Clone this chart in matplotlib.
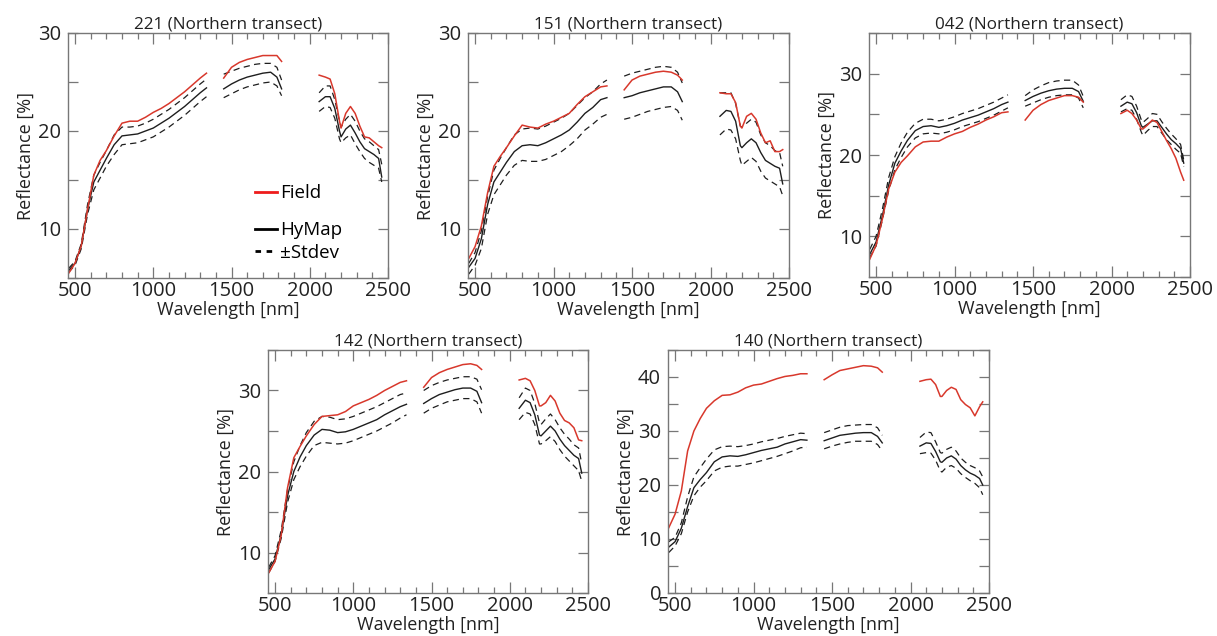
import numpy as np
import matplotlib
matplotlib.use("Agg")
import matplotlib.pyplot as plt
from matplotlib.lines import Line2D
from matplotlib.ticker import MultipleLocator

plt.rcParams['font.family'] = ['Open Sans', 'DejaVu Sans']

# Wavelength grid (nm), three segments separated by water absorption gaps
wl_vnir = [460, 500, 540, 580, 620, 660, 700, 750, 800, 850, 900, 950, 1000,
           1050, 1100, 1150, 1200, 1250, 1300, 1340]
wl_swir1 = [1450, 1500, 1550, 1600, 1650, 1700, 1750, 1790, 1820]
wl_swir2 = [2060, 2100, 2130, 2160, 2190, 2200, 2230, 2260, 2290, 2320, 2350,
            2380, 2410, 2440, 2460]

titles = ["221 (Northern transect)", "151 (Northern transect)", "042 (Northern transect)",
          "142 (Northern transect)", "140 (Northern transect)"]

# ---- 221 ----
field_221 = [5.5, 6.5, 8.3, 12.0, 15.5, 17.0, 18.0, 19.5, 20.8, 21.0, 21.0, 21.4, 21.9, 22.3, 22.8, 23.4, 24.0, 24.7, 25.4, 25.9,
             25.4, 26.5, 27.0, 27.3, 27.5, 27.7, 27.7, 27.7, 27.1,
             25.7, 25.5, 25.3, 23.8, 21.0, 20.3, 21.8, 22.5, 21.8, 20.5, 19.4, 19.3, 18.9, 18.5, 18.3]
hymap_221 = [5.8, 6.5, 8.3, 12.0, 14.8, 16.0, 17.2, 18.6, 19.5, 19.6, 19.7, 20.0, 20.3, 20.8, 21.3, 21.9, 22.5, 23.2, 23.9, 24.4,
             24.3, 24.8, 25.2, 25.5, 25.7, 25.9, 26.0, 25.5, 24.3,
             23.0, 23.5, 23.5, 22.3, 20.0, 19.4, 20.2, 20.6, 19.8, 18.9, 18.2, 17.9, 17.6, 17.2, 15.3]
hi_221 = [6.0, 6.7, 8.5, 12.5, 15.5, 16.8, 18.0, 19.6, 20.4, 20.4, 20.5, 20.8, 21.2, 21.7, 22.2, 22.8, 23.4, 24.1, 24.8, 25.3,
          25.8, 26.1, 26.4, 26.6, 26.8, 26.9, 26.9, 26.5, 25.2,
          23.9, 24.6, 24.6, 23.2, 21.0, 20.4, 21.2, 21.7, 21.0, 20.0, 19.2, 18.9, 18.5, 18.1, 16.6]
lo_221 = [5.6, 6.3, 8.0, 11.5, 14.0, 15.2, 16.4, 17.6, 18.6, 18.7, 18.8, 19.1, 19.4, 19.9, 20.4, 21.0, 21.6, 22.3, 23.0, 23.5,
          23.4, 23.8, 24.2, 24.5, 24.7, 24.9, 25.0, 24.6, 23.6,
          22.0, 22.5, 22.4, 21.3, 19.2, 18.8, 19.3, 19.6, 18.7, 17.9, 17.2, 16.8, 16.5, 16.2, 14.8]

# ---- 151 ----
field_151 = [7.0, 8.2, 10.3, 13.7, 16.4, 17.4, 18.3, 19.5, 20.6, 20.4, 20.3, 20.7, 21.0, 21.4, 21.8, 22.7, 23.5, 24.0, 24.5, 24.6,
             24.2, 25.2, 25.6, 25.8, 26.0, 26.1, 26.0, 25.7, 25.2,
             23.9, 23.8, 23.8, 22.9, 20.5, 20.3, 21.5, 21.8, 21.2, 19.8, 18.8, 19.0, 17.9, 17.9, 18.1]
hymap_151 = [6.1, 7.0, 9.0, 12.5, 14.8, 15.8, 16.8, 17.9, 18.5, 18.6, 18.5, 18.8, 19.2, 19.6, 20.1, 20.9, 21.8, 22.4, 23.2, 23.4,
             23.4, 23.6, 23.9, 24.1, 24.3, 24.5, 24.5, 24.0, 23.0,
             21.5, 22.1, 22.0, 21.0, 18.5, 18.3, 18.8, 19.2, 18.8, 17.8, 17.0, 16.7, 16.4, 16.2, 14.6]
hi_151 = [6.5, 7.6, 9.8, 13.3, 16.0, 17.2, 18.3, 19.6, 20.2, 20.3, 20.2, 20.5, 20.9, 21.3, 21.8, 22.6, 23.4, 24.0, 24.8, 25.2,
          25.6, 25.9, 26.1, 26.3, 26.5, 26.6, 26.5, 26.0, 24.9,
          23.9, 23.9, 23.9, 22.8, 20.5, 20.4, 20.8, 21.2, 20.9, 19.6, 18.8, 18.5, 18.0, 17.8, 16.4]
lo_151 = [5.4, 6.3, 8.0, 11.5, 13.5, 14.5, 15.5, 16.5, 17.0, 16.9, 16.9, 17.1, 17.5, 17.9, 18.5, 19.2, 20.1, 20.7, 21.4, 21.7,
          21.2, 21.4, 21.7, 22.0, 22.2, 22.4, 22.5, 22.1, 21.1,
          19.6, 20.2, 20.1, 19.2, 17.0, 16.5, 16.9, 17.3, 16.9, 15.9, 15.2, 14.9, 14.6, 14.3, 13.4]

# ---- 042 ----
field_042 = [7.2, 8.9, 12.1, 15.8, 17.9, 19.1, 19.9, 21.0, 21.6, 21.7, 21.7, 22.2, 22.6, 22.9, 23.4, 23.8, 24.3, 24.7, 25.2, 25.3,
             24.3, 25.5, 26.2, 26.7, 27.0, 27.3, 27.3, 27.1, 26.5,
             25.1, 25.5, 25.1, 24.3, 23.2, 23.2, 23.7, 24.3, 24.0, 22.9, 21.8, 20.8, 19.6, 17.9, 16.9]
hymap_042 = [7.8, 9.3, 12.5, 16.3, 19.0, 20.5, 21.8, 23.0, 23.5, 23.6, 23.4, 23.6, 23.9, 24.3, 24.6, 24.9, 25.3, 25.7, 26.2, 26.5,
             26.7, 27.2, 27.6, 27.9, 28.1, 28.2, 28.2, 27.8, 26.6,
             26.0, 26.5, 26.3, 25.2, 23.6, 23.4, 23.8, 24.2, 24.2, 23.4, 22.6, 21.9, 21.4, 20.8, 19.0]
hi_042 = [8.4, 10.0, 13.3, 17.2, 19.8, 21.5, 22.8, 23.9, 24.4, 24.4, 24.2, 24.4, 24.7, 25.1, 25.4, 25.7, 26.1, 26.5, 27.0, 27.4,
          27.3, 28.0, 28.5, 28.9, 29.1, 29.2, 29.2, 28.6, 27.2,
          26.8, 27.4, 27.2, 26.0, 24.3, 24.0, 24.5, 25.1, 25.0, 24.1, 23.3, 22.6, 22.0, 21.3, 19.4]
lo_042 = [7.4, 8.8, 12.0, 15.6, 18.2, 19.7, 21.0, 22.1, 22.6, 22.7, 22.6, 22.8, 23.1, 23.5, 23.8, 24.1, 24.5, 24.9, 25.4, 25.8,
          26.0, 26.4, 26.8, 27.1, 27.3, 27.4, 27.4, 27.0, 25.8,
          25.3, 25.7, 25.5, 24.4, 22.8, 22.4, 23.0, 23.5, 23.5, 22.7, 21.9, 21.3, 20.7, 20.2, 18.6]

# ---- 142 ----
field_142 = [7.5, 8.9, 12.2, 18.0, 21.7, 23.1, 24.4, 25.8, 26.8, 26.9, 27.0, 27.4, 28.1, 28.5, 28.9, 29.4, 30.0, 30.5, 31.0, 31.2,
             30.4, 31.6, 32.2, 32.6, 32.9, 33.2, 33.3, 33.1, 32.6,
             31.3, 31.5, 31.2, 30.0, 28.1, 28.1, 28.5, 29.4, 28.7, 27.2, 26.3, 26.0, 25.4, 23.9, 23.8]
hymap_142 = [7.9, 9.2, 12.3, 17.0, 20.0, 21.8, 23.2, 24.5, 25.2, 25.1, 24.8, 24.9, 25.2, 25.6, 26.0, 26.4, 27.0, 27.5, 28.0, 28.3,
             28.4, 29.0, 29.5, 29.8, 30.1, 30.3, 30.3, 29.9, 28.5,
             27.8, 28.8, 28.5, 27.0, 24.5, 24.4, 25.0, 25.6, 25.0, 24.0, 23.2, 22.6, 22.0, 21.6, 19.8]
hi_142 = [8.2, 9.6, 12.8, 17.8, 21.2, 23.2, 24.8, 26.2, 26.8, 26.7, 26.4, 26.5, 26.8, 27.2, 27.6, 28.0, 28.5, 29.0, 29.5, 29.7,
          30.0, 30.6, 31.0, 31.3, 31.5, 31.7, 31.7, 31.4, 30.1,
          29.1, 30.3, 30.0, 28.4, 26.0, 25.8, 26.5, 27.1, 26.4, 25.4, 24.6, 24.0, 23.3, 22.9, 21.0]
lo_142 = [7.5, 8.9, 11.8, 16.2, 19.0, 20.6, 21.9, 23.2, 23.6, 23.5, 23.4, 23.5, 23.8, 24.2, 24.6, 25.0, 25.5, 26.0, 26.6, 27.0,
          27.2, 27.8, 28.2, 28.6, 28.8, 29.0, 29.0, 28.6, 27.2,
          26.4, 27.3, 27.1, 25.8, 23.4, 23.4, 23.8, 24.3, 23.7, 22.7, 21.9, 21.3, 20.7, 20.1, 18.8]

# ---- 140 ----
field_140 = [12.1, 14.6, 18.9, 26.3, 30.0, 32.3, 34.2, 35.6, 36.6, 36.7, 37.2, 38.0, 38.5, 38.7, 39.2, 39.7, 40.1, 40.3, 40.6, 40.6,
             39.5, 40.4, 41.2, 41.5, 41.8, 42.1, 42.0, 41.7, 40.9,
             39.2, 39.5, 39.6, 38.6, 36.4, 36.4, 37.5, 38.1, 37.7, 35.8, 34.9, 34.3, 32.8, 34.5, 35.4]
hymap_140 = [8.5, 9.5, 12.0, 16.0, 19.5, 21.0, 22.3, 24.3, 25.2, 25.4, 25.3, 25.6, 26.0, 26.4, 26.7, 27.0, 27.6, 28.0, 28.4, 28.3,
             28.2, 28.7, 29.2, 29.4, 29.6, 29.7, 29.7, 29.0, 27.8,
             27.2, 27.8, 27.7, 26.2, 24.3, 24.2, 25.0, 25.4, 24.8, 23.6, 22.8, 22.2, 21.8, 21.2, 20.0]
hi_140 = [9.5, 10.3, 13.0, 17.8, 21.5, 23.2, 24.8, 26.5, 27.1, 27.2, 27.1, 27.3, 27.6, 28.0, 28.3, 28.6, 29.0, 29.3, 29.6, 29.5,
          29.7, 30.2, 30.7, 31.0, 31.1, 31.2, 31.2, 30.6, 29.2,
          28.8, 29.8, 29.7, 28.0, 26.0, 25.9, 26.6, 27.0, 26.3, 25.0, 24.2, 23.6, 23.2, 22.6, 21.5]
lo_140 = [7.5, 8.7, 11.0, 15.0, 18.0, 19.6, 20.8, 22.6, 23.3, 23.5, 23.5, 23.8, 24.1, 24.5, 24.9, 25.3, 25.8, 26.3, 26.9, 27.0,
          26.7, 27.2, 27.6, 27.9, 28.1, 28.1, 28.1, 27.5, 26.3,
          25.8, 26.0, 25.9, 24.6, 22.6, 22.4, 23.3, 23.6, 23.1, 22.1, 21.4, 20.8, 20.3, 19.5, 18.2]

fields = [field_221, field_151, field_042, field_142, field_140]
hymaps = [hymap_221, hymap_151, hymap_042, hymap_142, hymap_140]
his = [hi_221, hi_151, hi_042, hi_142, hi_140]
los = [lo_221, lo_151, lo_042, lo_142, lo_140]
ylims = [(5, 30), (5, 30), (5, 35), (5, 35), (0, 45)]

W, H = 1217, 636
boxes_px = [(68, 33, 388, 278), (468, 33, 789, 278), (869, 33, 1190, 277),
            (268, 350, 588, 593), (668, 350, 989, 593)]

fig = plt.figure(figsize=(W / 100, H / 100), dpi=100)

segs = [wl_vnir, wl_swir1, wl_swir2]
RED = '#d8382c'
BLK = '#1e1e1e'
SPINE = '#777777'
TXT = '#222222'

for i in range(5):
    l, t, r, b = boxes_px[i]
    ax = fig.add_axes([l / W, 1 - b / H, (r - l) / W, (b - t) / H])
    start = 0
    for seg in segs:
        n = len(seg)
        sl = slice(start, start + n)
        x = np.array(seg)
        ax.plot(x, np.array(his[i][sl]), color=BLK, lw=0.9, ls=(0, (5, 3.5)))
        ax.plot(x, np.array(los[i][sl]), color=BLK, lw=0.9, ls=(0, (5, 3.5)))
        ax.plot(x, np.array(hymaps[i][sl]), color=BLK, lw=1.0)
        ax.plot(x, np.array(fields[i][sl]), color=RED, lw=1.1)
        start += n
    ax.set_xlim(455, 2500)
    ax.set_ylim(*ylims[i])
    ax.xaxis.set_major_locator(MultipleLocator(500))
    ax.xaxis.set_minor_locator(MultipleLocator(100))
    ax.yaxis.set_major_locator(MultipleLocator(10))
    ax.yaxis.set_minor_locator(MultipleLocator(5))
    ax.tick_params(which='both', direction='in', top=True, right=True,
                   color=SPINE, labelcolor=TXT, labelsize=14.5, width=0.9)
    ax.tick_params(axis='x', which='major', length=8, pad=2)
    ax.tick_params(axis='x', which='minor', length=4)
    ax.tick_params(axis='y', which='both', length=7, pad=5)
    for sp in ax.spines.values():
        sp.set_color(SPINE)
        sp.set_linewidth(1.0)
    ax.set_title(titles[i], fontsize=12.3, color=TXT, pad=3)
    ax.set_xlabel('Wavelength [nm]', fontsize=13, color=TXT, labelpad=0)
    ax.set_ylabel('Reflectance [%]', fontsize=13, color=TXT, labelpad=2)
    if i == 0:
        h_field = [Line2D([], [], color='#ee1c1c', lw=2)]
        h_rest = [Line2D([], [], color='black', lw=2),
                  Line2D([], [], color='black', lw=2, ls=(0, (2, 2)))]
        kw = dict(frameon=False, fontsize=13.5, handlelength=1.2,
                  handletextpad=0.15, borderpad=0, loc='upper left')
        leg1 = ax.legend(h_field, ['Field'], bbox_to_anchor=(0.555, 0.42), **kw)
        ax.add_artist(leg1)
        ax.legend(h_rest, ['HyMap', '\u00b1Stdev'], bbox_to_anchor=(0.555, 0.27),
                  labelspacing=0.25, **kw)

fig.savefig('out.png', dpi=100)
